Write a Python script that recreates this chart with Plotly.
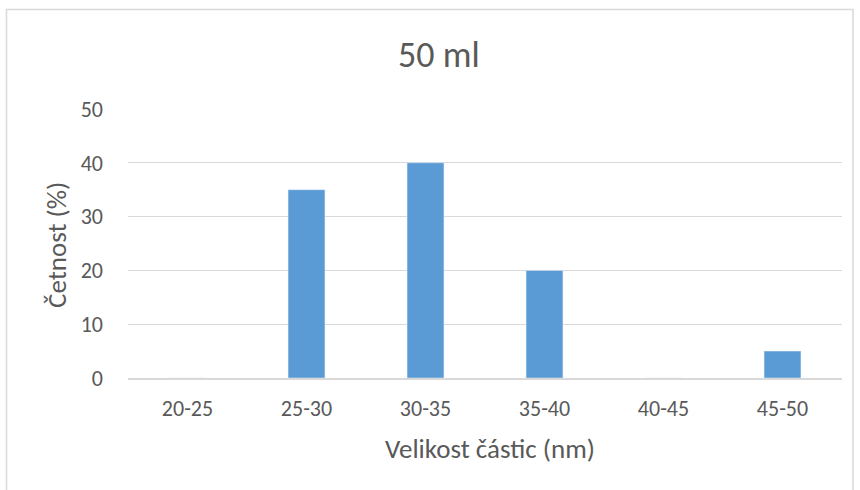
import plotly.graph_objects as go

categories = ["20-25", "25-30", "30-35", "35-40", "40-45", "45-50"]
values = [0, 35, 40, 20, 0, 5]
y_ticks = [0, 10, 20, 30, 40, 50]

W, H = 860, 490
L, R, T, B = 128, 842, 109, 378

def px(x):
    return (x - L) / (R - L)

def py(y):
    return (B - y) / (B - T)

font_fam = "Carlito, Calibri, 'Open Sans', 'Liberation Sans', sans-serif"
grey = "#595959"

fig = go.Figure(go.Bar(x=categories, y=values, marker_color="#5B9BD5", width=0.31,
                       hoverinfo="skip"))

fig.update_layout(
    width=W, height=H, autosize=False,
    margin=dict(l=L, r=W - R, t=T, b=H - B, pad=0),
    plot_bgcolor="white", paper_bgcolor="white",
    showlegend=False,
    font=dict(family=font_fam, color=grey, size=22),
)
fig.update_xaxes(showgrid=False, showline=True, linecolor="#D9D9D9", linewidth=1.5,
                 ticks="", tickfont=dict(size=22, color=grey), ticklabelstandoff=10)
fig.update_yaxes(range=[0, 50], tickvals=y_ticks, showgrid=True, gridcolor="#D9D9D9",
                 gridwidth=1, zeroline=False, showline=False, ticks="",
                 tickfont=dict(size=22, color=grey), ticklabelstandoff=24)

ann = dict(xref="paper", yref="paper", showarrow=False, xanchor="center", yanchor="middle")
fig.add_annotation(text="50 ml", x=px(438.5), y=py(55), font=dict(size=36, color=grey), **ann)
fig.add_annotation(text="Četnost (%)", x=px(56), y=py(245), textangle=-90,
                   font=dict(size=27, color=grey), **ann)
fig.add_annotation(text="Velikost částic (nm)", x=px(490), y=py(448),
                   font=dict(size=27, color=grey), **ann)

fig.add_shape(type="rect", xref="paper", yref="paper",
              x0=px(6.5), x1=px(853), y0=py(500), y1=py(9.5),
              line=dict(color="#D9D9D9", width=1.5), fillcolor="rgba(0,0,0,0)", layer="below")

fig.write_html("out.html", config={"displayModeBar": False},
               post_script="document.body.style.margin='0';")
